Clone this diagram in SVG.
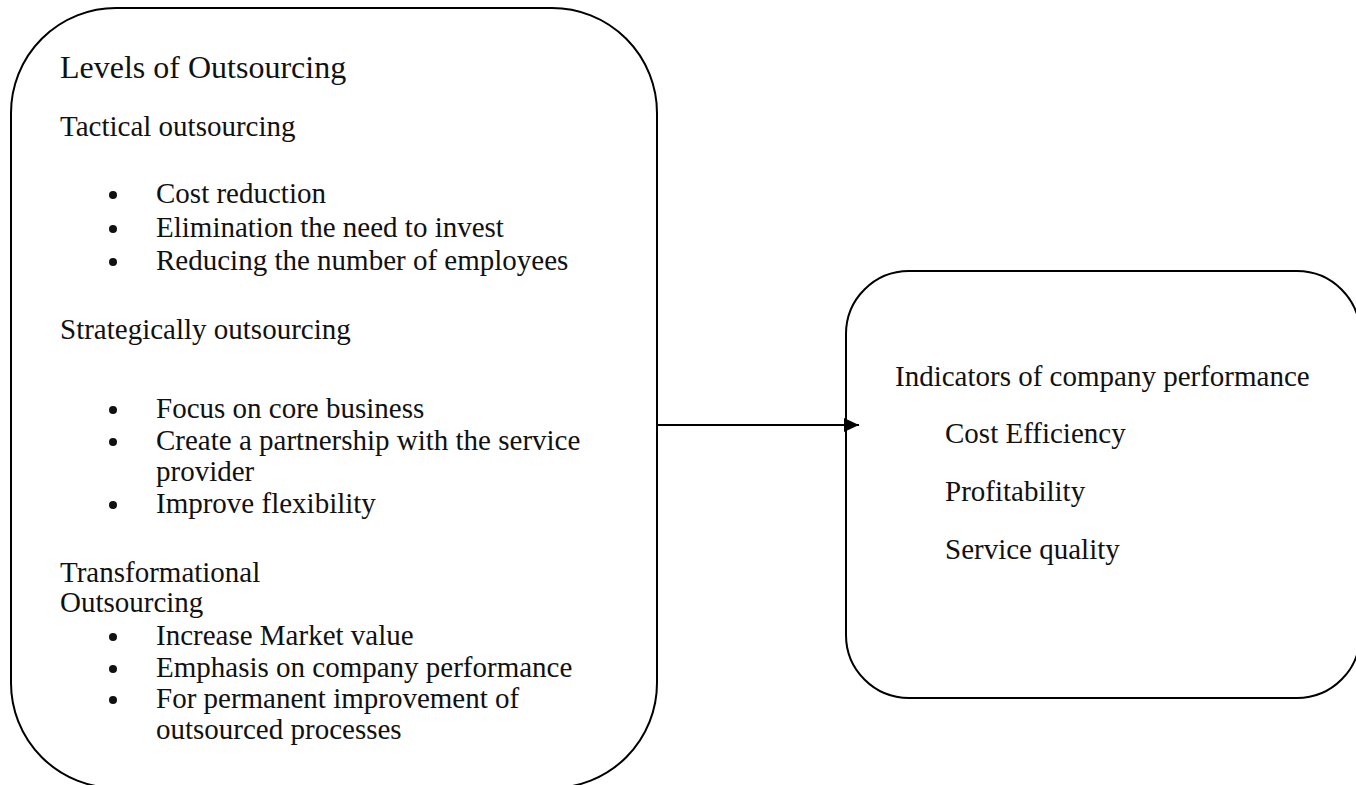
<svg xmlns="http://www.w3.org/2000/svg" width="1356" height="785" viewBox="0 0 1356 785">
  <style>
    .box { fill: #ffffff; stroke: #000000; stroke-width: 2; }
    .title { font-family: "Liberation Serif", "Times New Roman", serif; font-size: 32px; fill: #111111; }
    .txt { font-family: "Liberation Serif", "Times New Roman", serif; font-size: 29px; fill: #111111; }
    .dot { fill: #111111; }
    .link { stroke: #000000; stroke-width: 2; fill: none; }
  </style>
  <defs>
    <marker id="arrow" markerWidth="16" markerHeight="14" refX="15" refY="7" orient="auto" markerUnits="userSpaceOnUse">
      <path d="M0,0 L15,7 L0,14 Z" fill="#000000"/>
    </marker>
  </defs>
  <rect width="1356" height="785" fill="#ffffff"/>

  <!-- Left node: levels of outsourcing -->
  <g id="levels">
    <rect class="box" x="11" y="8" width="646" height="780" rx="105" ry="105"/>
    <text class="title" x="60" y="78">Levels of Outsourcing</text>
    <text class="txt" x="60" y="136">Tactical outsourcing</text>
    <circle class="dot" cx="113" cy="195" r="4"/>
    <text class="txt" x="156" y="203">Cost reduction</text>
    <circle class="dot" cx="113" cy="229" r="4"/>
    <text class="txt" x="156" y="237">Elimination the need to invest</text>
    <circle class="dot" cx="113" cy="262" r="4"/>
    <text class="txt" x="156" y="270">Reducing the number of employees</text>
    <text class="txt" x="60" y="339">Strategically outsourcing</text>
    <circle class="dot" cx="113" cy="410" r="4"/>
    <text class="txt" x="156" y="418">Focus on core business</text>
    <circle class="dot" cx="113" cy="442" r="4"/>
    <text class="txt" x="156" y="450">Create a partnership with the service</text>
    <text class="txt" x="156" y="481">provider</text>
    <circle class="dot" cx="113" cy="505" r="4"/>
    <text class="txt" x="156" y="513">Improve flexibility</text>
    <text class="txt" x="60" y="582">Transformational</text>
    <text class="txt" x="60" y="612">Outsourcing</text>
    <circle class="dot" cx="113" cy="637" r="4"/>
    <text class="txt" x="156" y="645">Increase Market value</text>
    <circle class="dot" cx="113" cy="669" r="4"/>
    <text class="txt" x="156" y="677">Emphasis on company performance</text>
    <circle class="dot" cx="113" cy="700" r="4"/>
    <text class="txt" x="156" y="708">For permanent improvement of</text>
    <text class="txt" x="156" y="739">outsourced processes</text>
  </g>

  <!-- Right node: performance indicators -->
  <g id="indicators">
    <rect class="box" x="846" y="271" width="514" height="427" rx="63" ry="63"/>
    <text class="txt" x="895" y="386">Indicators of company performance</text>
    <text class="txt" x="945" y="443">Cost Efficiency</text>
    <text class="txt" x="945" y="501">Profitability</text>
    <text class="txt" x="945" y="559">Service quality</text>
  </g>

  <!-- Connectors -->
  <g id="connectors">
    <line class="link" x1="657" y1="425" x2="859" y2="425" marker-end="url(#arrow)"/>
  </g>
</svg>
